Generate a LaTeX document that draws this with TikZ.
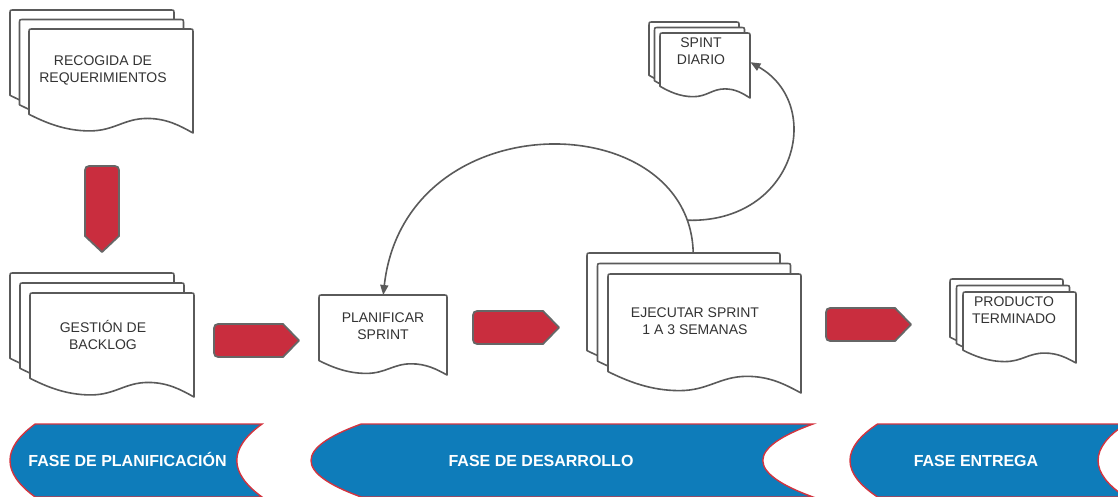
\documentclass[tikz,border=0pt]{standalone}
\usepackage{fontspec}
\setmainfont{Liberation Sans}
\usepackage{tikz}
\usetikzlibrary{calc}
\usetikzlibrary{arrows.meta}
\usetikzlibrary{positioning}
\usepackage{xcolor}
\definecolor{clsheet}{HTML}{5A5A5A}
\definecolor{cltext}{HTML}{333333}
\definecolor{clred}{HTML}{C92D3E}
\definecolor{clredline}{HTML}{666666}
\definecolor{clblue}{HTML}{0E7CBA}
\definecolor{clband}{HTML}{D3343F}
\tikzstyle{sheetline} = [draw=clsheet, line width=1.6pt, fill=white, line join=round]
\tikzstyle{sheetbox} = [rectangle, inner sep=0pt, anchor=north west]
\tikzstyle{sheettext} = [text=cltext, font=\fontsize{14}{17}\selectfont, align=center]
\tikzstyle{redblock} = [draw=clredline, line width=1.8pt, fill=clred, line join=round]
\tikzstyle{phaseband} = [draw=clband, line width=1.4pt, fill=clblue]
\tikzstyle{phasetext} = [text=white, font=\bfseries\fontsize{16}{19}\selectfont, text height=12pt, text depth=0pt]
\tikzstyle{line} = [draw=clsheet, line width=1.6pt, -{Triangle[length=10pt,width=8pt]}]
% one sheet: name, x, y, width, height
\newcommand{\docsheet}[5]{%
  \begin{scope}[shift={(#2,#3)}]
    \pgfmathsetmacro{\shw}{#4}
    \pgfmathsetmacro{\shh}{#5}
    \path[sheetline] (\shw,\shh) -- (\shw,4) .. controls (\shw,0) .. ({\shw-4},0) -- (4,0) .. controls (0,0) .. (0,4)
      -- (0,{0.82*\shh}) .. controls ({0.1*\shw},{0.9*\shh}) and ({0.22*\shw},{0.98*\shh}) .. ({0.37*\shw},{0.98*\shh})
      .. controls ({0.52*\shw},{0.98*\shh}) and ({0.58*\shw},{0.86*\shh}) .. ({0.72*\shw},{0.86*\shh})
      .. controls ({0.84*\shw},{0.86*\shh}) and ({0.92*\shw},{0.93*\shh}) .. (\shw,\shh) -- cycle;
    \node[sheetbox, minimum width=#4, minimum height=#5] (#1) at (0,0) {};
  \end{scope}}
% three sheets: name, x, y, width, height, offset
\newcommand{\docstack}[6]{%
  \docsheet{#1-back}{#2}{#3}{#4}{#5}
  \docsheet{#1-mid}{#2+#6}{#3+#6}{#4}{#5}
  \docsheet{#1}{#2+2*#6}{#3+2*#6}{#4}{#5}}
% red block arrow: x, y, rotation, length, height
\newcommand{\redarrow}[5]{%
  \begin{scope}[shift={(#1,#2)}, rotate=#3]
    \pgfmathsetmacro{\arl}{#4}
    \pgfmathsetmacro{\arh}{#5}
    \path[redblock] (9,0) -- ({\arl-16},0) -- (\arl,{\arh/2}) -- ({\arl-16},\arh) -- (9,\arh)
      .. controls (0,\arh) .. (0,{\arh-9}) -- (0,9) .. controls (0,0) .. (9,0) -- cycle;
  \end{scope}}
% phase band: left, right
\newcommand{\drawphase}[2]{%
  \pgfmathsetmacro{\bnd}{0.1*(#2-#1)}
  \path[phaseband] ({#1+\bnd},424) -- (#2,424) .. controls ({#2-1.333*\bnd},448.3) and ({#2-1.333*\bnd},472.7) .. (#2,497)
    -- ({#1+\bnd},497) .. controls ({#1-\bnd/3},472.7) and ({#1-\bnd/3},448.3) .. ({#1+\bnd},424) -- cycle;}
\begin{document}
\begin{tikzpicture}[x=1pt, y=-1pt]
    \useasboundingbox[fill=white] (0,0) rectangle (1118,497);

    \docstack{recogida}{10}{10}{164}{104}{9.5}
    \docstack{gestion}{10}{273}{164}{104}{10}
    \docsheet{planificar}{319}{295}{128}{80}
    \docstack{ejecutar}{587}{253}{193}{119}{10.5}
    \docstack{spint}{649}{22}{90}{65}{5.5}
    \docstack{producto}{950}{279}{113}{71}{6.5}

    \node [sheettext] (recogidatxt) at (103,70) {RECOGIDA DE\\REQUERIMIENTOS};
    \node [sheettext] (gestiontxt) at (103,335) {GESTIÓN DE\\BACKLOG};
    \node [sheettext] (planificartxt) at (383,326) {PLANIFICAR\\SPRINT};
    \node [sheettext] (ejecutartxt) at (695,321) {EJECUTAR SPRINT\\1 A 3 SEMANAS};
    \node [sheettext] (spinttxt) at (701,51.5) {SPINT\\DIARIO};
    \node [sheettext] (productotxt) at (1014,310) {PRODUCTO\\TERMINADO};

    \redarrow{119}{166}{-90}{86}{34}
    \redarrow{214}{324}{0}{85}{33}
    \redarrow{473}{311}{0}{86}{33}
    \redarrow{826}{308}{0}{85}{33}

    \drawphase{10}{262}
    \drawphase{311}{813}
    \drawphase{850}{1125.6}
    \node [phasetext] (fase1) at (127.5,460) {FASE DE PLANIFICACIÓN};
    \node [phasetext] (fase2) at (541,460) {FASE DE DESARROLLO};
    \node [phasetext] (fase3) at (976,460) {FASE ENTREGA};

    \path [line] ([xshift=9.5pt]ejecutar-back.north) .. controls +(-3,-148) and +(22,-195) .. (planificar.north) coordinate[pos=0.08] (fork);
    \path [line] (fork) .. controls +(108,3) and +(75,43) .. ([yshift=3.5pt]spint.east);
\end{tikzpicture}
\end{document}
